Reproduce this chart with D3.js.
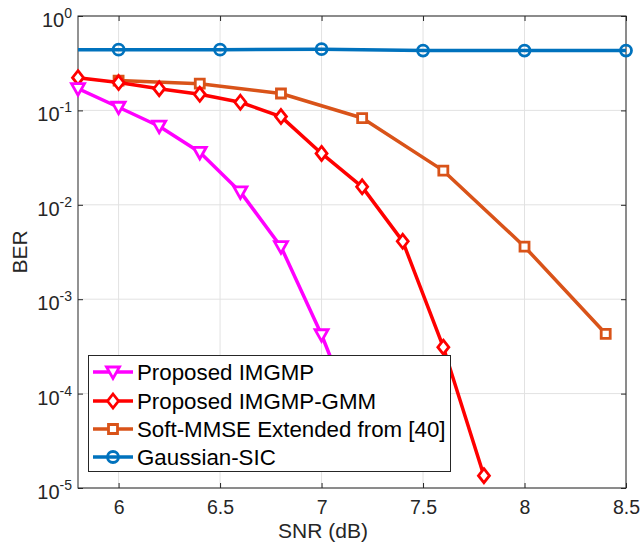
<!DOCTYPE html>
<html><head><meta charset="utf-8">
<script src="https://cdn.jsdelivr.net/npm/d3@7"></script>
<style>html,body{margin:0;padding:0;background:#fff;} svg{display:block;}</style>
</head><body>
<svg id="chart" width="641" height="542"></svg>
<script>
// ---- data ----
const xTicks = [6, 6.5, 7, 7.5, 8, 8.5];
const xTickLabels = ["6", "6.5", "7", "7.5", "8", "8.5"];
const yTickExps = [0, -1, -2, -3, -4, -5];

const imgmpX = [5.8, 6.0, 6.2, 6.4, 6.6, 6.8, 7.0, 7.2];
const imgmpY = [0.17, 0.108, 0.068, 0.036, 0.0137, 0.0036, 0.00042, 0.000035];

const gmmX = [5.8, 6.0, 6.2, 6.4, 6.6, 6.8, 7.0, 7.2, 7.4, 7.6, 7.8];
const gmmY = [0.222, 0.197, 0.17, 0.148, 0.122, 0.086, 0.035, 0.0155, 0.0041, 0.00031, 0.0000135];

const softX = [6.0, 6.4, 6.8, 7.2, 7.6, 8.0, 8.4];
const softY = [0.207, 0.192, 0.151, 0.083, 0.023, 0.0036, 0.00043];

const gsicX = [5.5, 6.0, 6.5, 7.0, 7.5, 8.0, 8.5];
const gsicY = [0.44, 0.44, 0.44, 0.445, 0.43, 0.43, 0.43];

const seriesNames = ["Proposed IMGMP", "Proposed IMGMP-GMM", "Soft-MMSE Extended from [40]", "Gaussian-SIC"];
const seriesColors = ["#FF00FF", "#FF0000", "#D95319", "#0072BD"];
const seriesMarkers = ["triangleDown", "diamond", "square", "circle"];

// ---- layout ----
const L = 78, R = 626, T = 16, B = 488;
const svg = d3.select("#chart");
const font = "'Liberation Sans', Arial, Helvetica, sans-serif";

const x = d3.scaleLinear().domain([5.8, 8.5]).range([L, R]);
const y = d3.scaleLog().domain([1e-5, 1]).range([B, T]);

// grid
const grid = svg.append("g");
xTicks.forEach(t => grid.append("line").attr("x1", x(t)).attr("x2", x(t)).attr("y1", T).attr("y2", B)
  .attr("stroke", "#e2e2e2").attr("stroke-width", 1));
yTickExps.forEach(e => grid.append("line").attr("x1", L).attr("x2", R).attr("y1", y(Math.pow(10, e))).attr("y2", y(Math.pow(10, e)))
  .attr("stroke", "#e2e2e2").attr("stroke-width", 1));

// axes using d3 axes (ticks inward)
const axCol = "#262626";
const xAxisB = d3.axisBottom(x).tickValues(xTicks).tickSize(-5).tickFormat((d, i) => xTickLabels[i]).tickPadding(12);
const gx = svg.append("g").attr("transform", `translate(0,${B})`).call(xAxisB);
gx.select(".domain").remove();
gx.selectAll(".tick line").attr("stroke", axCol);
gx.selectAll(".tick text").attr("font-family", font).attr("font-size", 19.5).attr("fill", "#262626").attr("dy", "0.71em");

const xAxisT = d3.axisTop(x).tickValues(xTicks).tickSize(-5).tickFormat("");
const gxt = svg.append("g").attr("transform", `translate(0,${T})`).call(xAxisT);
gxt.select(".domain").remove();
gxt.selectAll(".tick line").attr("stroke", axCol);

const yAxisL = d3.axisLeft(y).tickValues(yTickExps.map(e => Math.pow(10, e))).tickSize(-5).tickFormat("");
const gy = svg.append("g").attr("transform", `translate(${L},0)`).call(yAxisL);
gy.select(".domain").remove();
gy.selectAll(".tick line").attr("stroke", axCol);
const yAxisR = d3.axisRight(y).tickValues(yTickExps.map(e => Math.pow(10, e))).tickSize(-5).tickFormat("");
const gyr = svg.append("g").attr("transform", `translate(${R},0)`).call(yAxisR);
gyr.select(".domain").remove();
gyr.selectAll(".tick line").attr("stroke", axCol);

// y tick labels 10^e
yTickExps.forEach(e => {
  const t = svg.append("text").attr("x", 72).attr("y", y(Math.pow(10, e)) + 11)
    .attr("text-anchor", "end").attr("font-family", font).attr("font-size", 20).attr("fill", "#262626");
  t.append("tspan").text("10");
  t.append("tspan").attr("font-size", 14).attr("dy", -9).text(String(e));
});

// box
svg.append("rect").attr("x", L).attr("y", T).attr("width", R - L).attr("height", B - T)
  .attr("fill", "none").attr("stroke", axCol).attr("stroke-width", 1);

// axis labels
svg.append("text").attr("x", 323).attr("y", 538).attr("text-anchor", "middle")
  .attr("font-family", font).attr("font-size", 21).attr("fill", "#262626").text("SNR (dB)");
svg.append("text").attr("transform", `translate(27,${(T + B) / 2}) rotate(-90)`).attr("text-anchor", "middle")
  .attr("font-family", font).attr("font-size", 21).attr("fill", "#262626").text("BER");

// clip
svg.append("clipPath").attr("id", "clip").append("rect").attr("x", L).attr("y", T).attr("width", R - L).attr("height", B - T);

function markerPath(kind) {
  switch (kind) {
    case "triangleDown": return "M-6.5,-5 L6.5,-5 L0,6.5 Z";
    case "diamond": return "M0,-7 L5.5,0 L0,7 L-5.5,0 Z";
    case "square": return "M-4.5,-4.5 L4.5,-4.5 L4.5,4.5 L-4.5,4.5 Z";
    case "circle": return d3.symbol(d3.symbolCircle, Math.PI * 5.5 * 5.5)();
  }
}

const seriesData = [
  imgmpX.map((v, i) => [v, imgmpY[i]]),
  gmmX.map((v, i) => [v, gmmY[i]]),
  softX.map((v, i) => [v, softY[i]]),
  gsicX.map((v, i) => [v, gsicY[i]])
];

const line = d3.line().x(d => x(d[0])).y(d => y(d[1]));
// draw in reverse so magenta on top
[3, 2, 1, 0].forEach(si => {
  const data = seriesData[si];
  const g = svg.append("g");
  g.append("path").attr("d", line(data)).attr("fill", "none").attr("stroke", seriesColors[si])
    .attr("stroke-width", 3.5).attr("stroke-linejoin", "round").attr("clip-path", "url(#clip)");
  g.selectAll("path.m").data(data.filter(d => d[0] >= 5.8 - 1e-9 && d[0] <= 8.5 + 1e-9 && d[1] >= 1e-5))
    .enter().append("path").attr("class", "m")
    .attr("d", markerPath(seriesMarkers[si]))
    .attr("transform", d => `translate(${x(d[0])},${y(d[1])})`)
    .attr("fill", seriesMarkers[si] === "circle" ? "none" : "#fff")
    .attr("stroke", seriesColors[si]).attr("stroke-width", 2.8);
});

// legend
const lg = svg.append("g");
const lx = 88.5, ly = 355.5, lw = 362, lh = 116;
lg.append("rect").attr("x", lx).attr("y", ly).attr("width", lw).attr("height", lh)
  .attr("fill", "#fff").attr("stroke", axCol).attr("stroke-width", 1);
const rowY = [372, 401, 429, 457];
seriesNames.forEach((name, i) => {
  const yy = rowY[i];
  lg.append("line").attr("x1", 93).attr("x2", 133).attr("y1", yy).attr("y2", yy)
    .attr("stroke", seriesColors[i]).attr("stroke-width", 3.5);
  lg.append("path").attr("d", markerPath(seriesMarkers[i])).attr("transform", `translate(113,${yy})`)
    .attr("fill", seriesMarkers[i] === "circle" ? "none" : "#fff")
    .attr("stroke", seriesColors[i]).attr("stroke-width", 2.8);
  lg.append("text").attr("x", 137).attr("y", yy + 8).attr("font-family", font).attr("font-size", 22.3)
    .attr("fill", "#000").text(name);
});
</script>
</body></html>
